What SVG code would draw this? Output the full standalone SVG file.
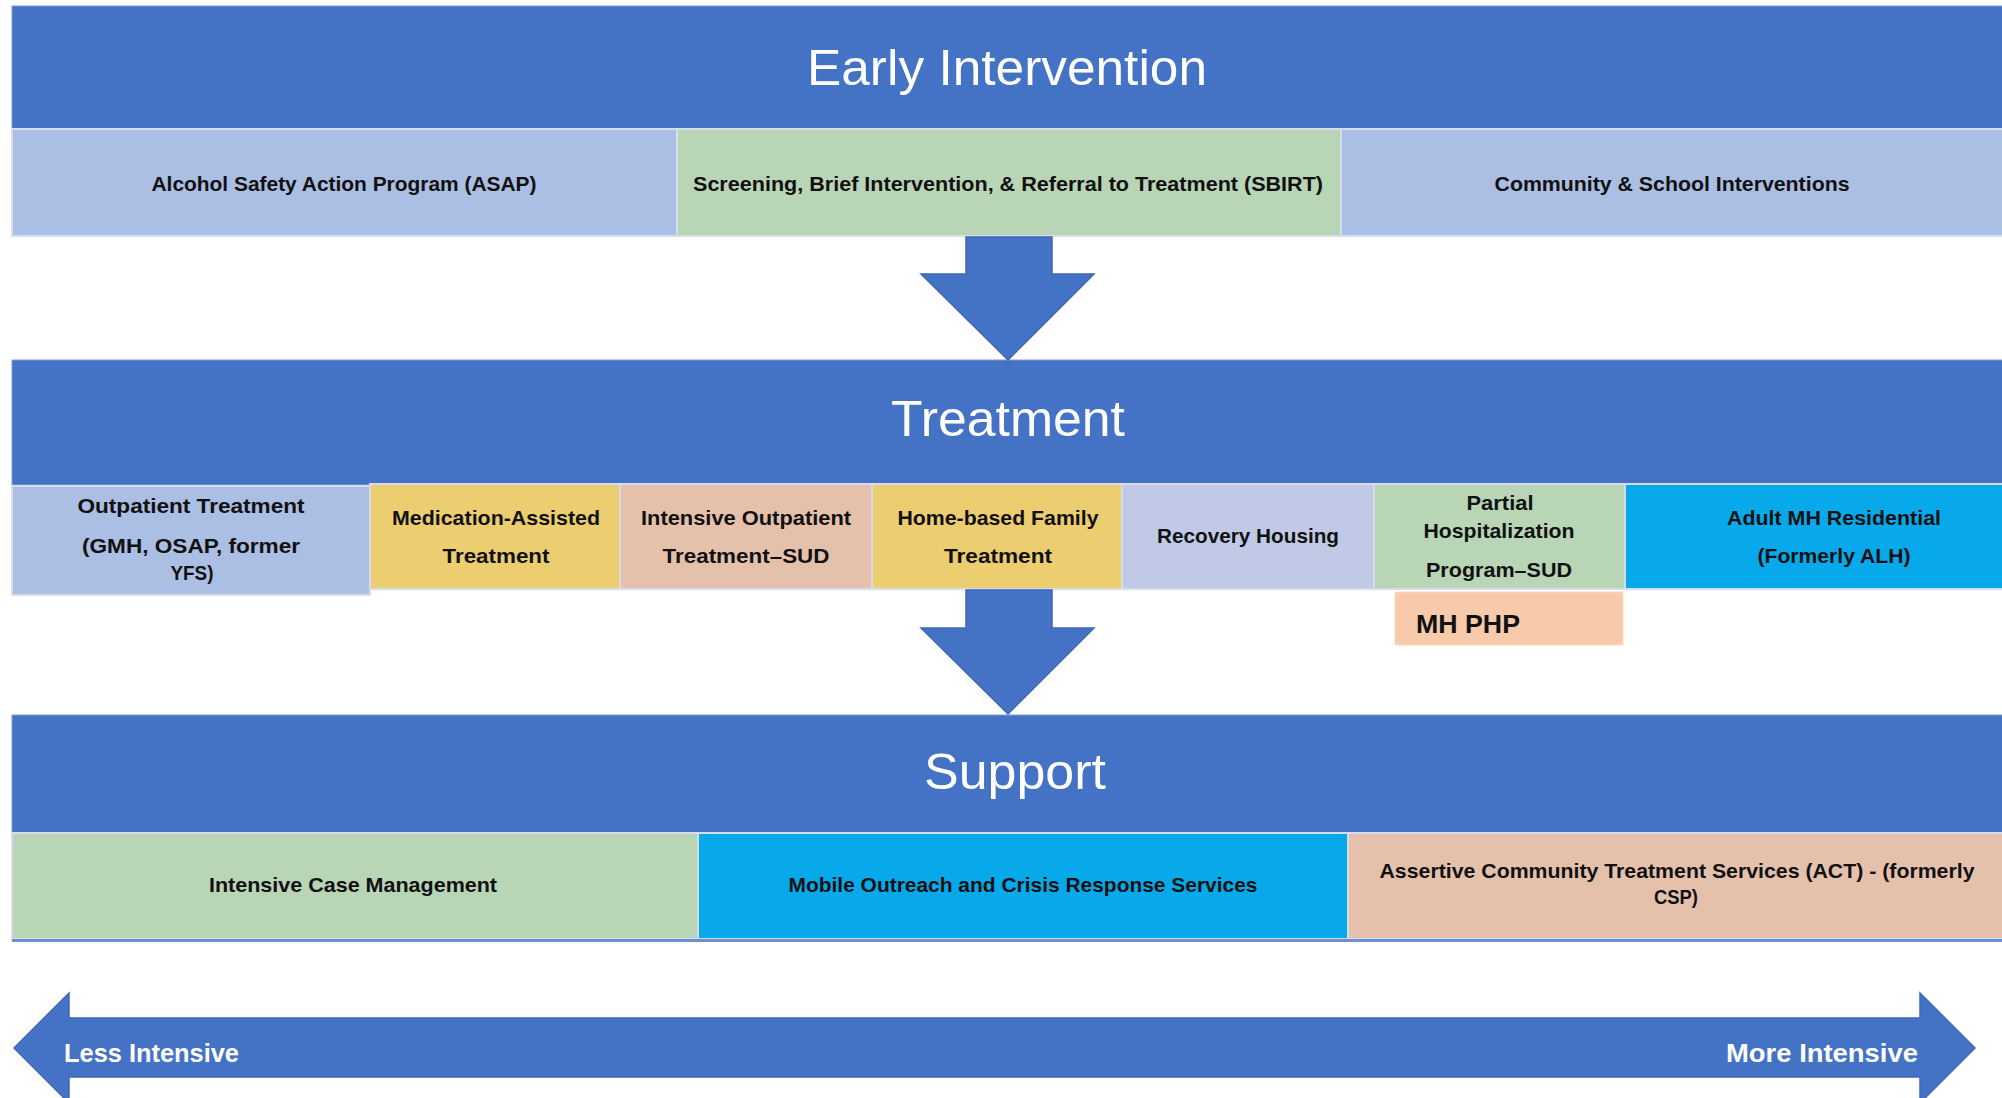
<svg xmlns="http://www.w3.org/2000/svg" width="2002" height="1098" viewBox="0 0 2002 1098">
<style>
.band{fill:#4472C4;stroke:#7F9DD6;stroke-width:1}
.box{stroke:#D6DCEC;stroke-width:2}
.lb{fill:#ABBEE4}.gr{fill:#B8D5B6}.ye{fill:#ECCD70}.sa{fill:#E5C1AC}.lv{fill:#C0CAE6}.bb{fill:#07A9EB}.or{fill:#F7CAAB;stroke:#F9DCC8}
.h{font-family:"Liberation Sans",Arial,sans-serif;font-size:50px;fill:#FFFFFF;text-anchor:middle}
.t{font-family:"Liberation Sans",Arial,sans-serif;font-size:21px;font-weight:bold;fill:#111111;text-anchor:middle}
.w{font-family:"Liberation Sans",Arial,sans-serif;font-size:26px;font-weight:bold;fill:#FFFFFF}
.arr{fill:#4472C4;stroke:#3F68B5;stroke-width:1.5}
</style>

<g id="early-intervention">
  <rect class="band" x="12" y="6" width="1995" height="123"/>
  <text class="h" x="1007" y="85" textLength="400" lengthAdjust="spacingAndGlyphs">Early Intervention</text>
</g>
<g id="asap">
  <rect class="box lb" x="12" y="129" width="665" height="107"/>
  <text class="t" x="344" y="191" textLength="385" lengthAdjust="spacingAndGlyphs">Alcohol Safety Action Program (ASAP)</text>
</g>
<g id="sbirt">
  <rect class="box gr" x="677" y="129" width="664" height="107"/>
  <text class="t" x="1008" y="191" textLength="630" lengthAdjust="spacingAndGlyphs">Screening, Brief Intervention, &amp; Referral to Treatment (SBIRT)</text>
</g>
<g id="community">
  <rect class="box lb" x="1341" y="129" width="670" height="107"/>
  <text class="t" x="1672" y="191" textLength="355" lengthAdjust="spacingAndGlyphs">Community &amp; School Interventions</text>
</g>

<g id="treatment">
  <rect class="band" x="12" y="360" width="1995" height="125"/>
  <text class="h" x="1008" y="436" textLength="234" lengthAdjust="spacingAndGlyphs">Treatment</text>
</g>
<g id="outpatient">
  <rect class="box lb" x="12" y="486" width="358" height="109"/>
  <text class="t" x="191" y="513" textLength="227" lengthAdjust="spacingAndGlyphs">Outpatient Treatment</text>
  <text class="t" x="191" y="553" textLength="218" lengthAdjust="spacingAndGlyphs">(GMH, OSAP,  former</text>
  <text class="t" x="192" y="580" textLength="43" lengthAdjust="spacingAndGlyphs">YFS)</text>
</g>
<g id="mat">
  <rect class="box ye" x="370" y="484" width="250" height="105"/>
  <text class="t" x="496" y="525" textLength="208" lengthAdjust="spacingAndGlyphs">Medication-Assisted</text>
  <text class="t" x="496" y="563" textLength="107" lengthAdjust="spacingAndGlyphs">Treatment</text>
</g>
<g id="iop">
  <rect class="box sa" x="620" y="484" width="252" height="105"/>
  <text class="t" x="746" y="525" textLength="210" lengthAdjust="spacingAndGlyphs">Intensive Outpatient</text>
  <text class="t" x="746" y="563" textLength="167" lengthAdjust="spacingAndGlyphs">Treatment–SUD</text>
</g>
<g id="home-based">
  <rect class="box ye" x="872" y="484" width="250" height="105"/>
  <text class="t" x="998" y="525" textLength="201" lengthAdjust="spacingAndGlyphs">Home-based Family</text>
  <text class="t" x="998" y="563" textLength="108" lengthAdjust="spacingAndGlyphs">Treatment</text>
</g>
<g id="recovery-housing">
  <rect class="box lv" x="1122" y="484" width="252" height="105"/>
  <text class="t" x="1248" y="543" textLength="182" lengthAdjust="spacingAndGlyphs">Recovery Housing</text>
</g>
<g id="php-sud">
  <rect class="box gr" x="1374" y="484" width="251" height="105"/>
  <text class="t" x="1500" y="510" textLength="67" lengthAdjust="spacingAndGlyphs">Partial</text>
  <text class="t" x="1499" y="538" textLength="151" lengthAdjust="spacingAndGlyphs">Hospitalization</text>
  <text class="t" x="1499" y="577" textLength="146" lengthAdjust="spacingAndGlyphs">Program–SUD</text>
</g>
<g id="adult-mh">
  <rect class="box bb" x="1625" y="484" width="390" height="105"/>
  <text class="t" x="1834" y="525" textLength="214" lengthAdjust="spacingAndGlyphs">Adult MH Residential</text>
  <text class="t" x="1834" y="563" textLength="153" lengthAdjust="spacingAndGlyphs">(Formerly ALH)</text>
</g>
<g id="mh-php">
  <rect class="or" x="1395" y="592" width="228" height="53" stroke-width="1"/>
  <text class="t" x="1416" y="633" style="font-size:25px;text-anchor:start" textLength="104" lengthAdjust="spacingAndGlyphs">MH PHP</text>
</g>

<g id="support">
  <rect class="band" x="12" y="715" width="1995" height="118"/>
  <text class="h" x="1015" y="789" textLength="182" lengthAdjust="spacingAndGlyphs">Support</text>
</g>
<g id="icm">
  <rect class="box gr" x="12" y="833" width="686" height="106"/>
  <text class="t" x="353" y="892" textLength="288" lengthAdjust="spacingAndGlyphs">Intensive Case Management</text>
</g>
<g id="mobile-outreach">
  <rect class="box bb" x="698" y="833" width="650" height="106"/>
  <text class="t" x="1023" y="892" textLength="469" lengthAdjust="spacingAndGlyphs">Mobile Outreach and Crisis Response Services</text>
</g>
<g id="act">
  <rect class="box sa" x="1348" y="833" width="665" height="106"/>
  <text class="t" x="1677" y="878" textLength="595" lengthAdjust="spacingAndGlyphs">Assertive Community Treatment Services (ACT) - (formerly</text>
  <text class="t" x="1676" y="904" textLength="44" lengthAdjust="spacingAndGlyphs">CSP)</text>
</g>
<rect x="12" y="939" width="1995" height="3" fill="#6F8FD0"/>

<g id="connectors">
  <polygon class="arr" points="966,237 1052,237 1052,274 1094,274 1008,360 921,274 966,274"/>
  <polygon class="arr" points="966,590 1052,590 1052,628 1094,628 1008,714 921,628 966,628"/>
  <polygon class="arr" points="14,1048 69,993 69,1018 1920,1018 1920,993 1975,1048 1920,1103 1920,1077 69,1077 69,1103"/>
</g>

<g id="intensity-labels">
  <text class="w" x="64" y="1062" textLength="175" lengthAdjust="spacingAndGlyphs">Less Intensive</text>
  <text class="w" x="1918" y="1062" style="text-anchor:end" textLength="192" lengthAdjust="spacingAndGlyphs">More Intensive</text>
</g>
</svg>
